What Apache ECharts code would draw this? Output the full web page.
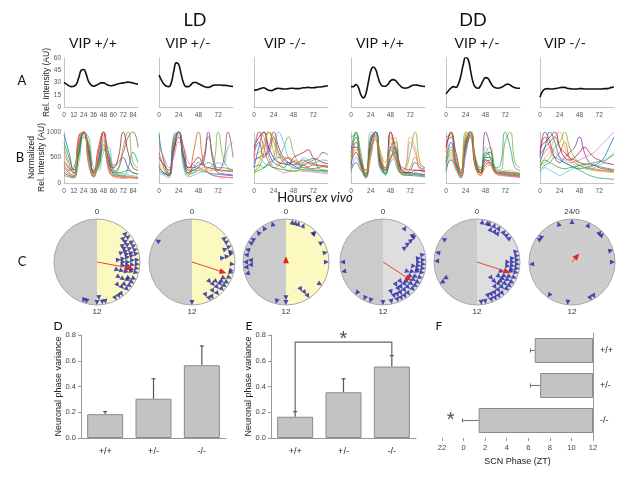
<!DOCTYPE html>
<html>
<head>
<meta charset="utf-8">
<script src="https://cdn.jsdelivr.net/npm/echarts@6/dist/echarts.min.js"></script>
<style>
html, body { margin: 0; padding: 0; background: #fff; }
#chartBox { width: 634px; height: 480px; }
</style>
</head>
<body>
<div id="chartBox"></div>
<script>
// ---- data ----
var genotypes = ['VIP +/+', 'VIP +/-', 'VIP -/-', 'VIP +/+', 'VIP +/-', 'VIP -/-'];
var barGroups = ['+/+', '+/-', '-/-'];

// row A: mean bioluminescence, every 3 h
var hoursA = [0,3,6,9,12,15,18,21,24,27,30,33,36,39,42,45,48,51,54,57,60,63,66,69,72,75,78,81,84,87,90];
var ldWt  = [30,28,26,25,25.5,28,36,45,46,40,31,27,25.5,26.5,28,29.5,29.5,28,26.5,26,26.5,27.5,28.5,29,29.5,30,30.5,30,29.5,28.5,28];
var ldHet = [39,33,28,25.5,25,30,44,54,52,40,29,25,25,27.5,30,30,28.5,27,25.5,24.5,24,25,26.5,27,27,27,26.5,26.5,26,25.5,25];
var ldKo  = [20.5,21,22,23,23.5,22,20.5,20,21,22.5,23,22.5,22,22,22.5,23,23,22.5,22.5,23,23.5,23.5,24,23.5,23.5,24,24.5,24.5,25,25.5,26];
var ddWt  = [25,25,27.5,24,15,11,16,30,44,49,46,36,28,25.5,25.5,28,32,33.5,32.5,29,26,23.5,23,23.5,25,26.5,27,26.8,26,25.5,25];
var ddHet = [16,20,23,25,24,28,38,52,61,58,44,30,24,23,26,32,36,35,30,25.5,23.5,23,23.5,25,27,28,27,25,23.5,23,23];
var ddKo  = [12,19,22,22.5,22,22,22.5,23,23.5,24,24,23,22.5,22,22,22,22.5,22.5,22,22,22,22,22,22,22,22,22.5,22.5,23,24,24.5];

// row B: single cell traces, every 6 h
var hoursB = [0,6,12,18,24,30,36,42,48,54,60,66,72,78,84,90];
var ldWtCells = [
  [950,600,250,600,1000,700,200,450,1000,450,200,150,130,120,110,100],
  [300,200,150,800,1000,500,150,600,950,300,150,120,100,110,100,90],
  [500,250,100,500,1000,800,250,300,800,500,250,180,150,130,120,110],
  [200,150,120,900,1000,400,120,500,1000,600,200,300,500,300,200,180],
  [700,400,200,700,950,600,180,350,700,300,150,250,700,1000,400,300],
  [250,180,150,400,1000,900,300,250,600,700,300,200,180,150,140,130],
  [400,300,200,600,1000,600,200,700,1000,400,300,500,1000,600,300,250],
  [150,120,100,650,980,550,140,400,850,350,180,150,140,300,600,400],
  [600,350,180,850,1000,450,160,550,900,250,120,100,90,100,110,100],
  [350,250,300,750,1000,700,250,400,750,500,350,400,600,900,1000,700],
  [800,500,250,550,900,750,220,300,650,600,250,200,220,250,200,180],
  [200,140,110,950,1000,350,110,650,1000,350,140,130,120,110,100,95]
];
var ldHetCells = [
  [950,400,180,700,1000,500,200,250,300,250,200,180,170,160,150,140],
  [600,300,150,900,1000,350,150,600,1000,400,200,150,130,120,110,100],
  [400,250,120,800,1000,600,250,200,250,300,250,250,250,220,230,220],
  [300,200,150,600,1000,700,300,300,350,400,1000,400,200,180,170,160],
  [800,450,200,750,950,400,180,200,250,220,300,350,1000,500,300,250],
  [200,150,100,950,1000,300,120,150,200,220,200,300,400,350,700,800],
  [500,350,250,650,900,500,300,400,500,350,300,280,260,250,240,230],
  [350,200,180,850,1000,450,200,300,400,350,400,350,300,300,280,260],
  [700,500,300,500,800,700,400,350,300,250,200,150,120,100,110,100],
  [250,180,150,700,1000,550,250,250,300,500,900,500,250,400,1000,500]
];
var ldKoCells = [
  [300,700,1000,600,400,350,300,400,350,300,350,300,280,300,320,300],
  [500,1000,700,400,300,350,450,500,400,350,300,320,350,340,330,320],
  [200,400,800,1000,600,400,300,250,300,280,250,260,240,250,260,250],
  [600,800,500,700,1000,700,500,400,350,400,450,400,380,350,340,330],
  [250,300,600,1000,800,500,700,900,600,400,300,280,260,250,240,230],
  [400,500,400,350,500,1000,800,500,400,350,500,450,400,420,450,430],
  [700,900,1000,700,500,400,380,360,500,550,600,650,500,450,400,380],
  [300,350,300,400,450,500,400,350,300,280,260,250,240,230,220,210],
  [350,1000,900,500,300,250,200,220,250,240,230,220,210,200,190,180],
  [450,500,550,600,900,600,450,400,420,380,350,400,450,500,600,550],
  [200,250,300,350,300,280,260,240,230,250,400,450,480,300,250,240],
  [550,600,700,1000,900,550,500,480,450,420,400,380,360,350,340,330]
];
var ddWtCells = [
  [600,1000,500,150,600,1000,400,200,700,800,300,200,250,400,300,250],
  [300,800,400,100,800,1000,300,300,1000,600,200,150,150,200,180,170],
  [800,900,300,120,700,950,500,250,600,900,250,300,900,700,250,220],
  [400,600,350,200,900,1000,350,200,500,600,300,200,200,180,170,160],
  [500,1000,600,150,500,1000,600,400,900,500,200,250,600,1000,400,300],
  [200,500,300,100,1000,900,250,200,400,500,250,200,180,170,160,150],
  [700,700,400,250,800,1000,450,250,1000,700,300,200,200,250,250,220],
  [350,900,450,180,650,950,300,180,700,650,220,180,170,160,150,140],
  [600,800,300,100,550,1000,500,300,800,400,250,300,800,600,300,280],
  [250,400,250,150,700,850,350,250,450,700,350,280,260,250,240,230],
  [900,950,350,120,850,1000,400,150,650,500,200,160,150,140,130,120],
  [450,650,500,200,600,900,550,300,550,550,260,230,300,500,350,300]
];
var ddHetCells = [
  [400,800,400,150,700,1000,400,200,500,500,200,180,170,160,150,140],
  [600,1000,500,200,900,1000,300,150,400,450,200,150,140,130,120,110],
  [300,600,300,120,800,1000,500,250,600,700,250,200,250,250,220,200],
  [800,900,350,100,600,950,350,200,1000,700,250,200,200,200,180,170],
  [500,700,400,180,1000,900,300,200,500,600,300,250,800,1000,400,300],
  [200,500,250,150,650,1000,450,300,700,500,250,200,200,180,170,160],
  [700,1000,600,250,750,1000,400,200,450,400,200,180,160,150,140,130],
  [350,650,400,200,850,950,350,250,550,600,300,350,1000,700,300,250],
  [600,800,300,150,550,1000,500,300,400,350,200,170,150,140,130,120],
  [250,450,350,200,700,900,300,200,350,400,250,230,220,210,200,190],
  [900,950,400,150,800,1000,450,250,600,500,220,200,190,180,170,160],
  [450,550,300,120,950,1000,350,150,300,350,200,180,170,160,150,140]
];
var ddKoCells = [
  [400,700,1000,800,500,400,350,300,280,300,320,350,400,500,700,900],
  [600,900,700,500,600,800,500,400,350,300,280,260,250,240,230,220],
  [300,500,600,900,1000,700,450,350,300,280,260,240,230,220,210,200],
  [500,1000,800,500,400,500,600,700,900,600,400,350,300,280,260,250],
  [350,400,500,700,800,1000,700,500,400,350,300,280,260,250,240,230],
  [200,300,250,200,150,200,250,300,350,300,280,300,350,400,500,600],
  [700,800,900,1000,700,500,450,500,600,700,600,500,450,400,380,360],
  [250,350,400,500,450,400,350,300,250,200,150,120,100,90,80,70],
  [450,600,700,600,500,450,400,420,450,500,550,600,700,800,900,1000],
  [550,700,800,900,700,600,500,450,400,380,360,340,320,300,280,260],
  [300,450,400,350,300,280,300,320,340,360,380,400,420,440,500,550]
];

// row C: cell phases (h) and mean vector [phase, length]
var ldWtPhases = [3.0,3.2,3.4,3.6,3.8,4.0,4.0,4.2,4.4,4.5,4.6,4.8,5.0,5.0,5.2,5.4,5.5,5.6,5.8,6.0,6.0,6.2,6.4,6.5,6.6,6.8,7.0,7.0,7.2,7.4,7.6,7.8,8.0,8.0,8.2,8.4,8.6,8.8,9.0,9.2,9.5,9.8,10.2,11.2,11.5,11.8,12.0,13.0,13.3,4.6,5.3,6.3,7.3,8.3,5.8,6.8];
var ldHetPhases = [20.1,12.0,3.6,4.0,4.5,4.6,5.0,5.2,5.5,6.2,6.8,7.0,7.5,7.8,8.0,8.2,8.4,8.6,8.8,9.0,9.2,9.4,9.6,10.0,10.3,10.5,8.5,9.1,5.4];
var ldKoPhases = [0.6,0.9,1.2,1.7,2.9,3.0,4.1,5.1,6.0,8.2,9.8,9.9,10.1,12.0,12.0,12.9,16.9,17.5,17.7,18.0,18.2,18.7,19.2,19.9,20.3,21.1,21.8,22.7];
var ddWtPhases = [2.2,3.2,3.4,3.6,3.8,3.5,5.3,5.6,5.8,6.0,6.2,6.4,6.6,6.8,7.0,7.2,7.4,7.6,7.8,8.0,8.2,8.4,8.6,8.8,9.0,9.2,9.4,9.6,9.8,10.0,10.2,10.4,10.6,10.8,11.0,11.2,9.0,9.5,10.0,10.0,8.5,12.0,13.2,13.8,14.7,17.1,18.0,6.5,7.0,7.5,8.0];
var ddHetPhases = [0.5,1.0,1.5,1.7,2.0,2.4,2.8,3.2,3.6,1.2,2.2,5.0,5.4,5.6,5.8,6.0,6.0,6.2,6.4,6.6,6.8,7.0,7.0,7.2,7.4,7.6,7.8,8.0,8.0,8.2,8.4,8.6,8.8,9.0,9.0,9.2,9.4,9.6,9.8,10.0,10.2,10.4,10.6,10.8,11.2,11.6,6.5,7.5,8.5,9.5,8.2,9.2,16.0,16.2,18.1,18.9,20.3];
var ddKoPhases = [22.7,0.0,1.6,2.9,3.2,4.9,6.0,9.8,10.2,12.4,14.3,17.8,20.3,20.6];
var meanVectors = [[6.7,0.78],[7.2,0.76],[0,0.05],[8.2,0.72],[7.2,0.74],[2.7,0.18]];

// rows D-F
var ldVariance = [0.185, 0.305, 0.565];
var ldVarianceSem = [0.02, 0.155, 0.15];
var ddVariance = [0.165, 0.355, 0.555];
var ddVarianceSem = [0.04, 0.105, 0.085];
var scnPhase = [6.6, 7.1, 1.4];
var scnPhaseSem = [0.4, 0.9, 1.5];

// ---- layout ----
var colX = [64, 159, 254, 351, 446, 540];
var colW = 74;
var circX = [97, 192, 286, 383, 477, 572];
var circY = 262, circR = 43;
var rightFill = ['#fbf9c0', '#fbf9c0', '#fbf9c0', '#dedede', '#dedede', '#cdcdcd'];
var leftFill = ['#cbcbcb', '#cbcbcb', '#cbcbcb', '#cbcbcb', '#cbcbcb', '#cdcdcd'];
var cellColors = ['#0072bd','#d95319','#edb120','#7e2f8e','#77ac30','#4dbeee','#a2142f','#1f9e89','#e377c2','#8c564b','#2ca02c','#ff7f0e'];
var labelFont = 'Liberation Sans';
var titleFont = 'Lato';

var traceA = [ldWt, ldHet, ldKo, ddWt, ddHet, ddKo];
var traceB = [ldWtCells, ldHetCells, ldKoCells, ddWtCells, ddHetCells, ddKoCells];
var phasesC = [ldWtPhases, ldHetPhases, ldKoPhases, ddWtPhases, ddHetPhases, ddKoPhases];

var grids = [], xAxes = [], yAxes = [], series = [];
var polars = [], angleAxes = [], radiusAxes = [], graphics = [];

function lineAxisX(idx, i) {
	return {
		gridIndex: idx, type: 'value', min: 0, max: 90, interval: i == 0 ? 12 : 24,
		axisLine: { lineStyle: { color: '#c4c4c4' } },
		axisTick: { show: false }, splitLine: { show: false },
		axisLabel: { fontSize: 6.5, color: '#555', margin: 5, showMaxLabel: false, fontFamily: labelFont }
	};
}

// rows A and B
for (let row = 0; row < 2; row++) {
	for (let i = 0; i < 6; i++) {
		let idx = grids.length;
		grids.push({ left: colX[i], top: row == 0 ? 58 : 132, width: colW, height: row == 0 ? 49 : 51, outerBoundsMode: 'none' });
		xAxes.push(lineAxisX(idx, i));
		let y = {
			gridIndex: idx, type: 'value', min: 0, max: row == 0 ? 60 : 1000, interval: row == 0 ? 15 : 500,
			axisLine: { show: true, lineStyle: { color: '#c4c4c4' } },
			axisTick: { show: false }, splitLine: { show: false },
			axisLabel: { show: i == 0, fontSize: 6.5, color: '#555', margin: 3, fontFamily: labelFont, formatter: v => String(v) }
		};
		if (i == 0) {
			y.name = row == 0 ? 'Rel. Intensity (AU)' : 'Normalized\nRel. Intensity (AU)';
			y.nameLocation = 'middle';
			y.nameMoveOverlap = false;
			y.nameGap = row == 0 ? 12 : 17;
			y.nameTextStyle = { fontSize: 8.5, color: '#222', fontFamily: labelFont, lineHeight: 10 };
		}
		yAxes.push(y);
		if (row == 0) {
			series.push({
				type: 'line', xAxisIndex: idx, yAxisIndex: idx, smooth: true, showSymbol: false,
				lineStyle: { color: '#111', width: 1.6 },
				data: hoursA.map((h, k) => [h, traceA[i][k]])
			});
		} else {
			traceB[i].forEach((cell, c) => {
				series.push({
					type: 'line', xAxisIndex: idx, yAxisIndex: idx, smooth: true, showSymbol: false,
					lineStyle: { color: cellColors[c % cellColors.length], width: 0.9, opacity: 0.85 },
					data: hoursB.map((h, k) => [h, cell[k]])
				});
			});
		}
	}
}

// row C: phase circles
function stackPhases(list) {
	let used = {};
	return list.slice().sort((a, b) => a - b).map(ph => {
		let bin = Math.round(ph / 0.45);
		used[bin] = (used[bin] || 0) + 1;
		let r = 0.94 - (used[bin] - 1) * 0.11;
		return { value: [r, ph], symbolRotate: -ph * 15 };
	});
}

for (let i = 0; i < 6; i++) {
	polars.push({ center: [circX[i], circY], radius: circR });
	angleAxes.push({
		polarIndex: i, type: 'value', min: 0, max: 24, interval: 12, startAngle: 90, clockwise: true,
		axisLine: { lineStyle: { color: '#a8a8a8' } },
		axisTick: { show: false }, splitLine: { show: false },
		axisLabel: {
			fontSize: 8, color: '#333', margin: 3, fontFamily: labelFont,
			formatter: function (v) {
				if (v == 0) return i == 5 ? '24/0' : '0';
				if (v == 12) return '12';
				return '';
			}
		}
	});
	radiusAxes.push({ polarIndex: i, min: 0, max: 1, show: false });
	graphics.push({
		type: 'sector', z: -1, silent: true,
		shape: { cx: circX[i], cy: circY, r: circR, r0: 0, startAngle: Math.PI / 2, endAngle: Math.PI * 1.5 },
		style: { fill: leftFill[i] }
	});
	graphics.push({
		type: 'sector', z: -1, silent: true,
		shape: { cx: circX[i], cy: circY, r: circR, r0: 0, startAngle: -Math.PI / 2, endAngle: Math.PI / 2 },
		style: { fill: rightFill[i] }
	});
	series.push({
		type: 'scatter', coordinateSystem: 'polar', polarIndex: i,
		symbol: 'triangle', symbolSize: 5,
		itemStyle: { color: '#2323a3' },
		data: stackPhases(phasesC[i])
	});
	let mv = meanVectors[i];
	series.push({
		type: 'line', coordinateSystem: 'polar', polarIndex: i, showSymbol: true,
		lineStyle: { color: '#e8453c', width: 1 },
		itemStyle: { color: '#e0281c' },
		data: [
			{ value: [0, mv[0]], symbol: 'none' },
			{ value: [mv[1], mv[0]], symbol: 'triangle', symbolSize: [6, 7], symbolRotate: -mv[0] * 15 }
		]
	});
}

// error bars
function vErrorBar(params, api) {
	let top = api.coord([api.value(0), api.value(2)]);
	let base = api.coord([api.value(0), api.value(1)]);
	let st = { stroke: '#555', lineWidth: 1.2 };
	return { type: 'group', children: [
		{ type: 'line', shape: { x1: top[0], y1: top[1], x2: base[0], y2: base[1] }, style: st },
		{ type: 'line', shape: { x1: top[0] - 2, y1: top[1], x2: top[0] + 2, y2: top[1] }, style: st }
	] };
}
function hErrorBar(params, api) {
	let end = api.coord([api.value(1), api.value(2)]);
	let base = api.coord([api.value(0), api.value(2)]);
	let st = { stroke: '#777', lineWidth: 1.1 };
	return { type: 'group', children: [
		{ type: 'line', shape: { x1: end[0], y1: end[1], x2: base[0], y2: base[1] }, style: st },
		{ type: 'line', shape: { x1: end[0], y1: end[1] - 2, x2: end[0], y2: end[1] + 2 }, style: st }
	] };
}

var barStyle = { color: '#c3c3c3', borderColor: '#8a8a8a', borderWidth: 1 };

// D and E
[[ldVariance, ldVarianceSem, 81], [ddVariance, ddVarianceSem, 271]].forEach((set, n) => {
	let idx = grids.length;
	grids.push({ left: set[2], top: 335, width: 145, height: 103, outerBoundsMode: 'none' });
	xAxes.push({
		gridIndex: idx, type: 'category', data: barGroups,
		axisLine: { lineStyle: { color: '#999' } }, axisTick: { show: false },
		axisLabel: { fontSize: 9, color: '#222', margin: 9, fontFamily: labelFont }
	});
	yAxes.push({
		gridIndex: idx, type: 'value', min: 0, max: 0.8, interval: 0.2,
		axisLine: { show: true, lineStyle: { color: '#999' } },
		axisTick: { show: true, length: 3, lineStyle: { color: '#999' } },
		splitLine: { show: false },
		axisLabel: { fontSize: 7.5, color: '#444', margin: 5, fontFamily: labelFont, formatter: v => v.toFixed(1) },
		name: 'Neuronal phase variance', nameLocation: 'middle', nameGap: 18, nameMoveOverlap: false,
		nameTextStyle: { fontSize: 9, color: '#222', fontFamily: labelFont }
	});
	series.push({
		type: 'bar', xAxisIndex: idx, yAxisIndex: idx, barWidth: 36,
		itemStyle: barStyle, data: set[0]
	});
	series.push({
		type: 'custom', xAxisIndex: idx, yAxisIndex: idx, renderItem: vErrorBar,
		encode: { x: 0, y: [1, 2] },
		data: set[0].map((m, k) => [k, m, m + set[1][k]])
	});
	if (n == 1) {
		series.push({
			type: 'line', xAxisIndex: idx, yAxisIndex: idx, symbol: 'none',
			lineStyle: { color: '#666', width: 1.2 },
			data: [['+/+', 0.205], ['+/+', 0.745], ['-/-', 0.745], ['-/-', 0.64]]
		});
		series.push({
			type: 'scatter', xAxisIndex: idx, yAxisIndex: idx, symbolSize: 1,
			itemStyle: { color: 'transparent' },
			label: { show: true, position: 'inside', formatter: '*', fontSize: 20, color: '#222', fontFamily: labelFont },
			data: [['+/-', 0.765]]
		});
	}
});

// F
(function () {
	let idx = grids.length;
	grids.push({ left: 442, top: 333, width: 151, height: 105, outerBoundsMode: 'none' });
	xAxes.push({
		gridIndex: idx, type: 'value', min: 0, max: 14, interval: 2, inverse: true,
		axisLine: { lineStyle: { color: '#999' } },
		axisTick: { show: true, length: 3, lineStyle: { color: '#999' } },
		splitLine: { show: false },
		axisLabel: { fontSize: 7.5, color: '#444', margin: 6, fontFamily: labelFont, formatter: v => ((12 - v) + 24) % 24 },
		name: 'SCN Phase (ZT)', nameLocation: 'middle', nameGap: 19, nameMoveOverlap: false,
		nameTextStyle: { fontSize: 9, color: '#222', fontFamily: labelFont }
	});
	yAxes.push({
		gridIndex: idx, type: 'category', data: barGroups, inverse: true, position: 'right',
		axisLine: { lineStyle: { color: '#999' } }, axisTick: { show: false },
		axisLabel: { fontSize: 9, color: '#222', margin: 7, fontFamily: labelFont }
	});
	series.push({
		type: 'bar', xAxisIndex: idx, yAxisIndex: idx, barWidth: 25,
		itemStyle: barStyle, data: scnPhase.map(p => 12 - p)
	});
	series.push({
		type: 'custom', xAxisIndex: idx, yAxisIndex: idx, renderItem: hErrorBar,
		encode: { x: [0, 1], y: 2 },
		data: scnPhase.map((p, k) => [12 - p, 12 - (p - scnPhaseSem[k]), k])
	});
	series.push({
		type: 'scatter', xAxisIndex: idx, yAxisIndex: idx, symbolSize: 1,
		itemStyle: { color: 'transparent' },
		label: { show: true, position: 'inside', formatter: '*', fontSize: 20, color: '#222', fontFamily: labelFont },
		data: [[13.2, '-/-']]
	});
})();

// texts
function txt(text, x, y, size, font, extra) {
	let style = Object.assign({
		text: text, x: x, y: y, fill: '#111',
		font: size + 'px ' + font,
		align: 'center', verticalAlign: 'middle',
		textAlign: 'center', textVerticalAlign: 'middle'
	}, extra || {});
	graphics.push({ type: 'text', silent: true, style: style });
}
txt('LD', 195, 20, 18, titleFont);
txt('DD', 473, 20, 18, titleFont);
var vipX = [93, 188, 285, 380, 477, 565];
genotypes.forEach((g, i) => txt(g, vipX[i], 43, 14, titleFont));
txt('A', 22, 81, 13, titleFont);
txt('B', 20, 158, 13, titleFont);
txt('C', 22, 262, 13, titleFont);
txt('D', 58, 326, 12, titleFont);
txt('E', 249, 326, 12, titleFont);
txt('F', 439, 326, 12, titleFont);
txt('{n|Hours }{i|ex vivo}', 315, 198, 13, titleFont, {
	rich: {
		n: { fontSize: 13, fontFamily: titleFont, fill: '#111' },
		i: { fontSize: 13, fontFamily: titleFont, fontStyle: 'italic', fill: '#111' }
	}
});

var chart = echarts.init(document.getElementById('chartBox'));
chart.setOption({
	animation: false,
	backgroundColor: '#fff',
	grid: grids,
	xAxis: xAxes,
	yAxis: yAxes,
	polar: polars,
	angleAxis: angleAxes,
	radiusAxis: radiusAxes,
	graphic: graphics,
	series: series
});
</script>
</body>
</html>
